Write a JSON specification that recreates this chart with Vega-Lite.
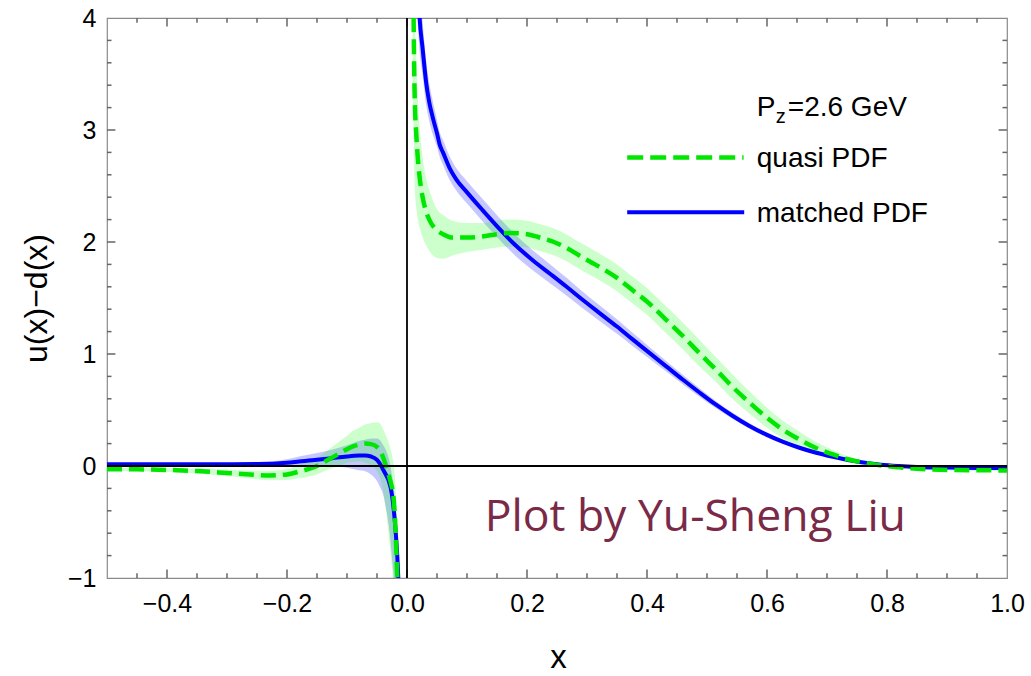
{
  "$schema": "https://vega.github.io/schema/vega-lite/v6.json",
  "width": 900,
  "height": 560,
  "autosize": {"type": "none"},
  "padding": {"left": 107, "top": 18, "right": 24, "bottom": 98},
  "background": "white",
  "config": {
    "font": "Liberation Sans",
    "view": {"stroke": "#8a8a8a", "strokeWidth": 1.2},
    "axis": {
      "labelFont": "Liberation Sans",
      "titleFont": "Liberation Sans",
      "labelColor": "#000000",
      "titleColor": "#000000",
      "grid": false,
      "domain": false,
      "ticks": false,
      "labelOverlap": false,
      "labelFlush": false,
      "titleFontWeight": "normal"
    }
  },
  "datasets": {
    "xmajor": [{"v": -0.4}, {"v": -0.2}, {"v": 0}, {"v": 0.2}, {"v": 0.4}, {"v": 0.6}, {"v": 0.8}],
    "xminor": [{"v": -0.45}, {"v": -0.35}, {"v": -0.3}, {"v": -0.25}, {"v": -0.15}, {"v": -0.1}, {"v": -0.05}, {"v": 0.05}, {"v": 0.1}, {"v": 0.15}, {"v": 0.25}, {"v": 0.3}, {"v": 0.35}, {"v": 0.45}, {"v": 0.5}, {"v": 0.55}, {"v": 0.65}, {"v": 0.7}, {"v": 0.75}, {"v": 0.85}, {"v": 0.9}, {"v": 0.95}],
    "ymajor": [{"v": 0}, {"v": 1}, {"v": 2}, {"v": 3}],
    "yminor": [{"v": -0.8}, {"v": -0.6}, {"v": -0.4}, {"v": -0.2}, {"v": 0.2}, {"v": 0.4}, {"v": 0.6}, {"v": 0.8}, {"v": 1.2}, {"v": 1.4}, {"v": 1.6}, {"v": 1.8}, {"v": 2.2}, {"v": 2.4}, {"v": 2.6}, {"v": 2.8}, {"v": 3.2}, {"v": 3.4}, {"v": 3.6}, {"v": 3.8}],
    "curves": [
      {"s": "m", "b": "n", "x": -0.5, "y": 0.015, "lo": 0.007, "hi": 0.023},
      {"s": "m", "b": "n", "x": -0.45, "y": 0.015, "lo": 0.007, "hi": 0.023},
      {"s": "m", "b": "n", "x": -0.4, "y": 0.015, "lo": 0.007, "hi": 0.023},
      {"s": "m", "b": "n", "x": -0.35, "y": 0.015, "lo": 0.006, "hi": 0.024},
      {"s": "m", "b": "n", "x": -0.3, "y": 0.016, "lo": 0.006, "hi": 0.026},
      {"s": "m", "b": "n", "x": -0.25, "y": 0.018, "lo": 0.003, "hi": 0.033},
      {"s": "m", "b": "n", "x": -0.2, "y": 0.03, "lo": 0.0, "hi": 0.06},
      {"s": "m", "b": "n", "x": -0.18, "y": 0.04, "lo": -0.005, "hi": 0.085},
      {"s": "m", "b": "n", "x": -0.15, "y": 0.055, "lo": -0.005, "hi": 0.115},
      {"s": "m", "b": "n", "x": -0.125, "y": 0.07, "lo": -0.005, "hi": 0.145},
      {"s": "m", "b": "n", "x": -0.1, "y": 0.085, "lo": -0.015, "hi": 0.185},
      {"s": "m", "b": "n", "x": -0.08, "y": 0.093, "lo": -0.037, "hi": 0.223},
      {"s": "m", "b": "n", "x": -0.07, "y": 0.094, "lo": -0.046, "hi": 0.234},
      {"s": "m", "b": "n", "x": -0.06, "y": 0.085, "lo": -0.075, "hi": 0.245},
      {"s": "m", "b": "n", "x": -0.05, "y": 0.055, "lo": -0.135, "hi": 0.245},
      {"s": "m", "b": "n", "x": -0.045, "y": 0.02, "lo": -0.19, "hi": 0.23},
      {"s": "m", "b": "n", "x": -0.04, "y": -0.03, "lo": -0.25, "hi": 0.19},
      {"s": "m", "b": "n", "x": -0.035, "y": -0.08, "lo": -0.38, "hi": 0.14},
      {"s": "m", "b": "n", "x": -0.03, "y": -0.14, "lo": -0.55, "hi": 0.06},
      {"s": "m", "b": "n", "x": -0.027, "y": -0.2, "lo": -0.7, "hi": -0.02},
      {"s": "m", "b": "n", "x": -0.024, "y": -0.3, "lo": -0.88, "hi": -0.12},
      {"s": "m", "b": "n", "x": -0.021, "y": -0.45, "lo": -1.1, "hi": -0.25},
      {"s": "m", "b": "n", "x": -0.018, "y": -0.65, "lo": -1.4, "hi": -0.42},
      {"s": "m", "b": "n", "x": -0.016, "y": -0.82, "lo": -1.7, "hi": -0.58},
      {"s": "m", "b": "n", "x": -0.0145, "y": -1.0, "lo": -2.0, "hi": -0.75},
      {"s": "m", "b": "n", "x": -0.013, "y": -1.2, "lo": -2.3, "hi": -0.95},

      {"s": "q", "b": "n", "x": -0.5, "y": -0.03, "lo": -0.045, "hi": -0.015},
      {"s": "q", "b": "n", "x": -0.45, "y": -0.03, "lo": -0.046, "hi": -0.014},
      {"s": "q", "b": "n", "x": -0.4, "y": -0.035, "lo": -0.053, "hi": -0.017},
      {"s": "q", "b": "n", "x": -0.35, "y": -0.045, "lo": -0.067, "hi": -0.023},
      {"s": "q", "b": "n", "x": -0.3, "y": -0.062, "lo": -0.09, "hi": -0.034},
      {"s": "q", "b": "n", "x": -0.25, "y": -0.08, "lo": -0.118, "hi": -0.042},
      {"s": "q", "b": "n", "x": -0.23, "y": -0.085, "lo": -0.127, "hi": -0.043},
      {"s": "q", "b": "n", "x": -0.2, "y": -0.075, "lo": -0.125, "hi": -0.025},
      {"s": "q", "b": "n", "x": -0.18, "y": -0.05, "lo": -0.11, "hi": 0.01},
      {"s": "q", "b": "n", "x": -0.15, "y": 0.0, "lo": -0.075, "hi": 0.075},
      {"s": "q", "b": "n", "x": -0.13, "y": 0.06, "lo": -0.03, "hi": 0.15},
      {"s": "q", "b": "n", "x": -0.11, "y": 0.12, "lo": 0.01, "hi": 0.23},
      {"s": "q", "b": "n", "x": -0.1, "y": 0.15, "lo": 0.03, "hi": 0.27},
      {"s": "q", "b": "n", "x": -0.09, "y": 0.175, "lo": 0.035, "hi": 0.315},
      {"s": "q", "b": "n", "x": -0.08, "y": 0.19, "lo": 0.04, "hi": 0.34},
      {"s": "q", "b": "n", "x": -0.07, "y": 0.2, "lo": 0.03, "hi": 0.37},
      {"s": "q", "b": "n", "x": -0.06, "y": 0.195, "lo": 0.005, "hi": 0.385},
      {"s": "q", "b": "n", "x": -0.05, "y": 0.17, "lo": -0.05, "hi": 0.39},
      {"s": "q", "b": "n", "x": -0.045, "y": 0.14, "lo": -0.11, "hi": 0.38},
      {"s": "q", "b": "n", "x": -0.04, "y": 0.08, "lo": -0.22, "hi": 0.33},
      {"s": "q", "b": "n", "x": -0.035, "y": 0.0, "lo": -0.4, "hi": 0.27},
      {"s": "q", "b": "n", "x": -0.03, "y": -0.09, "lo": -0.65, "hi": 0.2},
      {"s": "q", "b": "n", "x": -0.026, "y": -0.17, "lo": -0.85, "hi": 0.12},
      {"s": "q", "b": "n", "x": -0.023, "y": -0.25, "lo": -1.05, "hi": 0.04},
      {"s": "q", "b": "n", "x": -0.021, "y": -0.38, "lo": -1.25, "hi": -0.05},
      {"s": "q", "b": "n", "x": -0.019, "y": -0.58, "lo": -1.5, "hi": -0.2},
      {"s": "q", "b": "n", "x": -0.0175, "y": -0.8, "lo": -1.8, "hi": -0.4},
      {"s": "q", "b": "n", "x": -0.016, "y": -1.05, "lo": -2.1, "hi": -0.6},

      {"s": "m", "b": "p", "x": 0.018, "y": 4.35, "lo": 3.95, "hi": 4.75},
      {"s": "m", "b": "p", "x": 0.021, "y": 4.0, "lo": 3.7, "hi": 4.3},
      {"s": "m", "b": "p", "x": 0.026, "y": 3.73, "lo": 3.49, "hi": 3.97},
      {"s": "m", "b": "p", "x": 0.032, "y": 3.42, "lo": 3.22, "hi": 3.62},
      {"s": "m", "b": "p", "x": 0.037, "y": 3.25, "lo": 3.08, "hi": 3.42},
      {"s": "m", "b": "p", "x": 0.043, "y": 3.11, "lo": 2.96, "hi": 3.26},
      {"s": "m", "b": "p", "x": 0.05, "y": 2.97, "lo": 2.85, "hi": 3.09},
      {"s": "m", "b": "p", "x": 0.0545, "y": 2.87, "lo": 2.76, "hi": 2.98},
      {"s": "m", "b": "p", "x": 0.06, "y": 2.8, "lo": 2.69, "hi": 2.91},
      {"s": "m", "b": "p", "x": 0.071, "y": 2.66, "lo": 2.555, "hi": 2.765},
      {"s": "m", "b": "p", "x": 0.082, "y": 2.56, "lo": 2.46, "hi": 2.66},
      {"s": "m", "b": "p", "x": 0.099, "y": 2.45, "lo": 2.35, "hi": 2.55},
      {"s": "m", "b": "p", "x": 0.125, "y": 2.29, "lo": 2.19, "hi": 2.39},
      {"s": "m", "b": "p", "x": 0.1545, "y": 2.115, "lo": 2.018, "hi": 2.212},
      {"s": "m", "b": "p", "x": 0.18, "y": 1.975, "lo": 1.88, "hi": 2.07},
      {"s": "m", "b": "p", "x": 0.21, "y": 1.835, "lo": 1.745, "hi": 1.925},
      {"s": "m", "b": "p", "x": 0.24, "y": 1.71, "lo": 1.625, "hi": 1.795},
      {"s": "m", "b": "p", "x": 0.266, "y": 1.6, "lo": 1.52, "hi": 1.68},
      {"s": "m", "b": "p", "x": 0.29, "y": 1.495, "lo": 1.42, "hi": 1.57},
      {"s": "m", "b": "p", "x": 0.321, "y": 1.365, "lo": 1.295, "hi": 1.435},
      {"s": "m", "b": "p", "x": 0.35, "y": 1.245, "lo": 1.18, "hi": 1.31},
      {"s": "m", "b": "p", "x": 0.375, "y": 1.135, "lo": 1.076, "hi": 1.194},
      {"s": "m", "b": "p", "x": 0.404, "y": 1.01, "lo": 0.957, "hi": 1.063},
      {"s": "m", "b": "p", "x": 0.432, "y": 0.89, "lo": 0.843, "hi": 0.937},
      {"s": "m", "b": "p", "x": 0.46, "y": 0.77, "lo": 0.728, "hi": 0.812},
      {"s": "m", "b": "p", "x": 0.488, "y": 0.654, "lo": 0.617, "hi": 0.691},
      {"s": "m", "b": "p", "x": 0.515, "y": 0.547, "lo": 0.515, "hi": 0.579},
      {"s": "m", "b": "p", "x": 0.543, "y": 0.447, "lo": 0.419, "hi": 0.475},
      {"s": "m", "b": "p", "x": 0.57, "y": 0.36, "lo": 0.335, "hi": 0.385},
      {"s": "m", "b": "p", "x": 0.599, "y": 0.28, "lo": 0.259, "hi": 0.301},
      {"s": "m", "b": "p", "x": 0.627, "y": 0.215, "lo": 0.197, "hi": 0.233},
      {"s": "m", "b": "p", "x": 0.654, "y": 0.163, "lo": 0.148, "hi": 0.178},
      {"s": "m", "b": "p", "x": 0.682, "y": 0.118, "lo": 0.106, "hi": 0.13},
      {"s": "m", "b": "p", "x": 0.71, "y": 0.082, "lo": 0.072, "hi": 0.092},
      {"s": "m", "b": "p", "x": 0.737, "y": 0.052, "lo": 0.044, "hi": 0.06},
      {"s": "m", "b": "p", "x": 0.766, "y": 0.028, "lo": 0.022, "hi": 0.034},
      {"s": "m", "b": "p", "x": 0.79, "y": 0.012, "lo": 0.007, "hi": 0.017},
      {"s": "m", "b": "p", "x": 0.82, "y": 0.0, "lo": -0.004, "hi": 0.004},
      {"s": "m", "b": "p", "x": 0.85, "y": -0.008, "lo": -0.012, "hi": -0.004},
      {"s": "m", "b": "p", "x": 0.9, "y": -0.014, "lo": -0.017, "hi": -0.011},
      {"s": "m", "b": "p", "x": 0.95, "y": -0.017, "lo": -0.02, "hi": -0.014},
      {"s": "m", "b": "p", "x": 1.0, "y": -0.018, "lo": -0.021, "hi": -0.015},

      {"s": "q", "b": "p", "x": 0.0095, "y": 4.4, "lo": 3.3, "hi": 5.5},
      {"s": "q", "b": "p", "x": 0.011, "y": 4.0, "lo": 3.0, "hi": 5.0},
      {"s": "q", "b": "p", "x": 0.0118, "y": 3.6, "lo": 2.7, "hi": 4.5},
      {"s": "q", "b": "p", "x": 0.0128, "y": 3.3, "lo": 2.5, "hi": 4.1},
      {"s": "q", "b": "p", "x": 0.0156, "y": 2.95, "lo": 2.3, "hi": 3.6},
      {"s": "q", "b": "p", "x": 0.018, "y": 2.75, "lo": 2.2, "hi": 3.3},
      {"s": "q", "b": "p", "x": 0.021, "y": 2.58, "lo": 2.13, "hi": 3.03},
      {"s": "q", "b": "p", "x": 0.026, "y": 2.4, "lo": 2.04, "hi": 2.76},
      {"s": "q", "b": "p", "x": 0.032, "y": 2.27, "lo": 1.97, "hi": 2.57},
      {"s": "q", "b": "p", "x": 0.04, "y": 2.17, "lo": 1.9, "hi": 2.42},
      {"s": "q", "b": "p", "x": 0.049, "y": 2.11, "lo": 1.86, "hi": 2.3},
      {"s": "q", "b": "p", "x": 0.06, "y": 2.07, "lo": 1.85, "hi": 2.24},
      {"s": "q", "b": "p", "x": 0.076, "y": 2.04, "lo": 1.88, "hi": 2.19},
      {"s": "q", "b": "p", "x": 0.1, "y": 2.04, "lo": 1.91, "hi": 2.17},
      {"s": "q", "b": "p", "x": 0.126, "y": 2.05, "lo": 1.93, "hi": 2.17},
      {"s": "q", "b": "p", "x": 0.15, "y": 2.07, "lo": 1.95, "hi": 2.19},
      {"s": "q", "b": "p", "x": 0.171, "y": 2.08, "lo": 1.96, "hi": 2.2},
      {"s": "q", "b": "p", "x": 0.2, "y": 2.07, "lo": 1.95, "hi": 2.19},
      {"s": "q", "b": "p", "x": 0.221, "y": 2.04, "lo": 1.92, "hi": 2.16},
      {"s": "q", "b": "p", "x": 0.245, "y": 2.0, "lo": 1.88, "hi": 2.12},
      {"s": "q", "b": "p", "x": 0.265, "y": 1.95, "lo": 1.83, "hi": 2.07},
      {"s": "q", "b": "p", "x": 0.29, "y": 1.87, "lo": 1.75, "hi": 1.99},
      {"s": "q", "b": "p", "x": 0.32, "y": 1.78, "lo": 1.66, "hi": 1.9},
      {"s": "q", "b": "p", "x": 0.35, "y": 1.68, "lo": 1.56, "hi": 1.8},
      {"s": "q", "b": "p", "x": 0.376, "y": 1.57, "lo": 1.45, "hi": 1.69},
      {"s": "q", "b": "p", "x": 0.404, "y": 1.45, "lo": 1.33, "hi": 1.57},
      {"s": "q", "b": "p", "x": 0.431, "y": 1.31, "lo": 1.19, "hi": 1.43},
      {"s": "q", "b": "p", "x": 0.46, "y": 1.16, "lo": 1.04, "hi": 1.28},
      {"s": "q", "b": "p", "x": 0.487, "y": 1.01, "lo": 0.89, "hi": 1.13},
      {"s": "q", "b": "p", "x": 0.515, "y": 0.86, "lo": 0.75, "hi": 0.97},
      {"s": "q", "b": "p", "x": 0.542, "y": 0.71, "lo": 0.6, "hi": 0.82},
      {"s": "q", "b": "p", "x": 0.57, "y": 0.57, "lo": 0.47, "hi": 0.67},
      {"s": "q", "b": "p", "x": 0.598, "y": 0.44, "lo": 0.35, "hi": 0.53},
      {"s": "q", "b": "p", "x": 0.625, "y": 0.33, "lo": 0.25, "hi": 0.41},
      {"s": "q", "b": "p", "x": 0.653, "y": 0.24, "lo": 0.17, "hi": 0.31},
      {"s": "q", "b": "p", "x": 0.68, "y": 0.165, "lo": 0.11, "hi": 0.22},
      {"s": "q", "b": "p", "x": 0.709, "y": 0.105, "lo": 0.065, "hi": 0.145},
      {"s": "q", "b": "p", "x": 0.735, "y": 0.06, "lo": 0.035, "hi": 0.085},
      {"s": "q", "b": "p", "x": 0.764, "y": 0.028, "lo": 0.012, "hi": 0.044},
      {"s": "q", "b": "p", "x": 0.79, "y": 0.005, "lo": -0.005, "hi": 0.015},
      {"s": "q", "b": "p", "x": 0.82, "y": -0.012, "lo": -0.018, "hi": -0.006},
      {"s": "q", "b": "p", "x": 0.85, "y": -0.025, "lo": -0.031, "hi": -0.019},
      {"s": "q", "b": "p", "x": 0.9, "y": -0.035, "lo": -0.041, "hi": -0.029},
      {"s": "q", "b": "p", "x": 0.95, "y": -0.038, "lo": -0.044, "hi": -0.032},
      {"s": "q", "b": "p", "x": 1.0, "y": -0.04, "lo": -0.046, "hi": -0.034}
    ]
  },
  "data": {"name": "curves"},
  "resolve": {"axis": {"x": "independent", "y": "independent"}},
  "layer": [
    {
      "transform": [{"filter": "datum.s == 'm'"}],
      "mark": {"type": "area", "fill": "#0000ff", "fillOpacity": 0.22, "interpolate": "monotone", "clip": true},
      "encoding": {
        "x": {
          "field": "x", "type": "quantitative",
          "scale": {"domain": [-0.5, 1.0], "nice": false, "zero": false},
          "axis": {
            "orient": "bottom",
            "values": [-0.4, -0.2, 0, 0.2, 0.4, 0.6, 0.8, 1.0],
            "format": ".1f",
            "labelFontSize": 25,
            "labelPadding": 13,
            "title": "x",
            "titleFontSize": 33,
            "titleX": 451,
            "titleY": 89,
            "titleAlign": "center",
            "titleBaseline": "alphabetic",
            "titleAngle": 0
          }
        },
        "y": {
          "field": "lo", "type": "quantitative",
          "scale": {"domain": [-1, 4], "nice": false, "zero": false},
          "axis": {
            "orient": "left",
            "values": [-1, 0, 1, 2, 3, 4],
            "format": "d",
            "labelFontSize": 25,
            "labelPadding": 11,
            "labelBaseline": "middle",
            "title": "u(x)−d(x)",
            "titleFontSize": 32,
            "titleX": -71,
            "titleY": 280,
            "titleAngle": -90,
            "titleAlign": "center",
            "titleBaseline": "middle"
          }
        },
        "y2": {"field": "hi"},
        "detail": {"field": "b"}
      }
    },
    {
      "transform": [{"filter": "datum.s == 'q'"}],
      "mark": {"type": "area", "fill": "#00ff00", "fillOpacity": 0.2, "interpolate": "monotone", "clip": true},
      "encoding": {
        "x": {"field": "x", "type": "quantitative", "axis": null},
        "y": {"field": "lo", "type": "quantitative", "axis": null},
        "y2": {"field": "hi"},
        "detail": {"field": "b"}
      }
    },
    {
      "data": {"name": "xmajor"},
      "mark": {"type": "rule", "stroke": "#666666", "strokeWidth": 1.5},
      "encoding": {
        "x": {"field": "v", "type": "quantitative", "axis": null},
        "y": {"datum": -1, "type": "quantitative", "axis": null},
        "y2": {"datum": -0.925}
      }
    },
    {
      "data": {"name": "xmajor"},
      "mark": {"type": "rule", "stroke": "#666666", "strokeWidth": 1.5},
      "encoding": {
        "x": {"field": "v", "type": "quantitative", "axis": null},
        "y": {"datum": 4, "type": "quantitative", "axis": null},
        "y2": {"datum": 3.925}
      }
    },
    {
      "data": {"name": "xminor"},
      "mark": {"type": "rule", "stroke": "#666666", "strokeWidth": 1.5},
      "encoding": {
        "x": {"field": "v", "type": "quantitative", "axis": null},
        "y": {"datum": -1, "type": "quantitative", "axis": null},
        "y2": {"datum": -0.958}
      }
    },
    {
      "data": {"name": "xminor"},
      "mark": {"type": "rule", "stroke": "#666666", "strokeWidth": 1.5},
      "encoding": {
        "x": {"field": "v", "type": "quantitative", "axis": null},
        "y": {"datum": 4, "type": "quantitative", "axis": null},
        "y2": {"datum": 3.958}
      }
    },
    {
      "data": {"name": "ymajor"},
      "mark": {"type": "rule", "stroke": "#666666", "strokeWidth": 1.5},
      "encoding": {
        "y": {"field": "v", "type": "quantitative", "axis": null},
        "x": {"datum": -0.5, "type": "quantitative", "axis": null},
        "x2": {"datum": -0.486}
      }
    },
    {
      "data": {"name": "ymajor"},
      "mark": {"type": "rule", "stroke": "#666666", "strokeWidth": 1.5},
      "encoding": {
        "y": {"field": "v", "type": "quantitative", "axis": null},
        "x": {"datum": 1.0, "type": "quantitative", "axis": null},
        "x2": {"datum": 0.986}
      }
    },
    {
      "data": {"name": "yminor"},
      "mark": {"type": "rule", "stroke": "#666666", "strokeWidth": 1.5},
      "encoding": {
        "y": {"field": "v", "type": "quantitative", "axis": null},
        "x": {"datum": -0.5, "type": "quantitative", "axis": null},
        "x2": {"datum": -0.4925}
      }
    },
    {
      "data": {"name": "yminor"},
      "mark": {"type": "rule", "stroke": "#666666", "strokeWidth": 1.5},
      "encoding": {
        "y": {"field": "v", "type": "quantitative", "axis": null},
        "x": {"datum": 1.0, "type": "quantitative", "axis": null},
        "x2": {"datum": 0.9925}
      }
    },
    {
      "transform": [{"filter": "datum.s == 'm'"}],
      "mark": {"type": "line", "stroke": "#0000ff", "strokeWidth": 4, "interpolate": "monotone", "clip": true},
      "encoding": {
        "x": {"field": "x", "type": "quantitative", "axis": null},
        "y": {"field": "y", "type": "quantitative", "axis": null},
        "detail": {"field": "b"}
      }
    },
    {
      "transform": [{"filter": "datum.s == 'q'"}],
      "mark": {"type": "line", "stroke": "#00e600", "strokeWidth": 4.5, "strokeDash": [15, 7], "interpolate": "monotone", "clip": true},
      "encoding": {
        "x": {"field": "x", "type": "quantitative", "axis": null},
        "y": {"field": "y", "type": "quantitative", "axis": null},
        "detail": {"field": "b"}
      }
    },
    {
      "data": {"values": [{}]},
      "mark": {"type": "rule", "stroke": "#000000", "strokeWidth": 1.8},
      "encoding": {
        "x": {"datum": 0, "type": "quantitative", "axis": null}
      }
    },
    {
      "data": {"values": [{}]},
      "mark": {"type": "rule", "stroke": "#000000", "strokeWidth": 1.8},
      "encoding": {
        "y": {"datum": 0, "type": "quantitative", "axis": null}
      }
    },
    {
      "data": {"values": [{}]},
      "mark": {"type": "rule", "stroke": "#00e600", "strokeWidth": 4.5, "strokeDash": [16, 7]},
      "encoding": {
        "x": {"datum": 0.367, "type": "quantitative", "axis": null},
        "x2": {"datum": 0.561},
        "y": {"datum": 2.755, "type": "quantitative", "axis": null}
      }
    },
    {
      "data": {"values": [{}]},
      "mark": {"type": "rule", "stroke": "#0000ff", "strokeWidth": 4},
      "encoding": {
        "x": {"datum": 0.367, "type": "quantitative", "axis": null},
        "x2": {"datum": 0.562},
        "y": {"datum": 2.266, "type": "quantitative", "axis": null}
      }
    },
    {
      "data": {"values": [{}]},
      "mark": {"type": "text", "text": "quasi PDF", "font": "Liberation Sans", "fontSize": 28, "align": "left", "baseline": "middle", "color": "#000000"},
      "encoding": {
        "x": {"datum": 0.583, "type": "quantitative", "axis": null},
        "y": {"datum": 2.737, "type": "quantitative", "axis": null}
      }
    },
    {
      "data": {"values": [{}]},
      "mark": {"type": "text", "text": "matched PDF", "font": "Liberation Sans", "fontSize": 28, "align": "left", "baseline": "middle", "color": "#000000"},
      "encoding": {
        "x": {"datum": 0.583, "type": "quantitative", "axis": null},
        "y": {"datum": 2.251, "type": "quantitative", "axis": null}
      }
    },
    {
      "data": {"values": [{}]},
      "mark": {"type": "text", "text": "P", "font": "Liberation Sans", "fontSize": 28, "align": "left", "baseline": "middle", "color": "#000000"},
      "encoding": {
        "x": {"datum": 0.583, "type": "quantitative", "axis": null},
        "y": {"datum": 3.2, "type": "quantitative", "axis": null}
      }
    },
    {
      "data": {"values": [{}]},
      "mark": {"type": "text", "text": "z", "font": "Liberation Sans", "fontSize": 20, "align": "left", "baseline": "middle", "color": "#000000", "dx": 19, "dy": 9},
      "encoding": {
        "x": {"datum": 0.583, "type": "quantitative", "axis": null},
        "y": {"datum": 3.2, "type": "quantitative", "axis": null}
      }
    },
    {
      "data": {"values": [{}]},
      "mark": {"type": "text", "text": "=2.6 GeV", "font": "Liberation Sans", "fontSize": 28, "align": "left", "baseline": "middle", "color": "#000000", "dx": 31},
      "encoding": {
        "x": {"datum": 0.583, "type": "quantitative", "axis": null},
        "y": {"datum": 3.2, "type": "quantitative", "axis": null}
      }
    },
    {
      "data": {"values": [{}]},
      "mark": {"type": "text", "text": "Plot by Yu-Sheng Liu", "font": "Open Sans", "fontSize": 44.5, "align": "left", "baseline": "alphabetic", "color": "#7a2a47"},
      "encoding": {
        "x": {"datum": 0.1295, "type": "quantitative", "axis": null},
        "y": {"datum": -0.582, "type": "quantitative", "axis": null}
      }
    }
  ]
}
